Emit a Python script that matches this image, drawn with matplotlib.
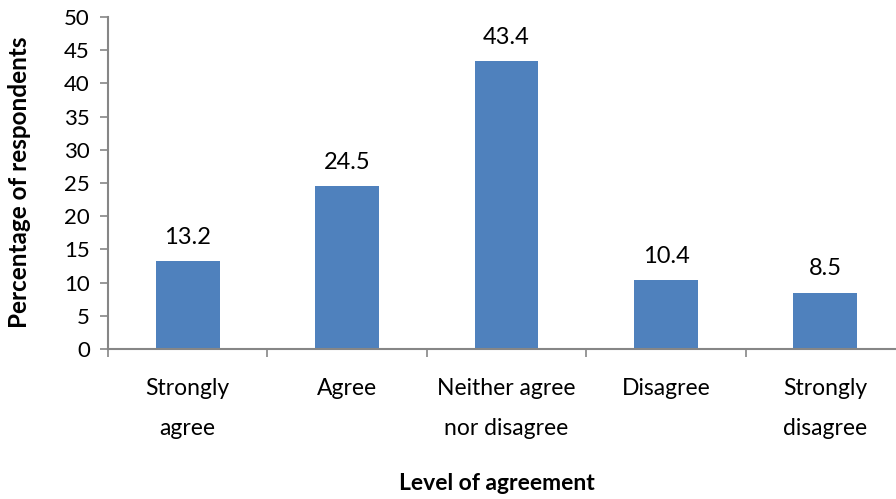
import numpy as np
import matplotlib.pyplot as plt

categories = ["Strongly\nagree", "Agree", "Neither agree\nnor disagree", "Disagree", "Strongly\ndisagree"]
values = [13.2, 24.5, 43.4, 10.4, 8.5]

plt.rcParams['font.family'] = ['Lato', 'DejaVu Sans']

fig = plt.figure(figsize=(8.96, 4.99), dpi=100)
ax = fig.add_axes([108 / 896, 1 - 349 / 499, (905 - 108) / 896, (349 - 17) / 499])

x = np.arange(len(values))
bars = ax.bar(x, values, width=0.4, color='#4F81BD')
for xi, v in zip(x, values):
    ax.text(xi, v + 2.0, f"{v}", ha='center', va='bottom', fontsize=17)

ax.set_xlim(-0.5, len(values) - 0.5)
ax.set_ylim(0, 50)
ax.set_yticks(np.arange(0, 51, 5))
ax.tick_params(axis='y', direction='out', length=6, width=1.2, color='#868686', labelsize=16, pad=7)

ax.set_xticks(np.arange(-0.5, len(values)), minor=False)
ax.set_xticklabels([])
ax.set_xticks(x, minor=True)
ax.set_xticklabels(categories, minor=True, fontsize=16.5, linespacing=2.1, va='top')
ax.tick_params(axis='x', which='major', direction='out', length=6, width=1.2, color='#868686')
ax.tick_params(axis='x', which='minor', length=0, pad=21)

for s in ['top', 'right']:
    ax.spines[s].set_visible(False)
for s in ['left', 'bottom']:
    ax.spines[s].set_color('#868686')
    ax.spines[s].set_linewidth(1.5)

fig.text(20 / 896, 1 - 182 / 499, "Percentage of respondents", rotation=90,
         ha='center', va='center', fontsize=17.5, fontweight='bold')
fig.text(497 / 896, 1 - 483 / 499, "Level of agreement", ha='center', va='center',
         fontsize=16.5, fontweight='bold')

fig.savefig("out.png", dpi=100)
